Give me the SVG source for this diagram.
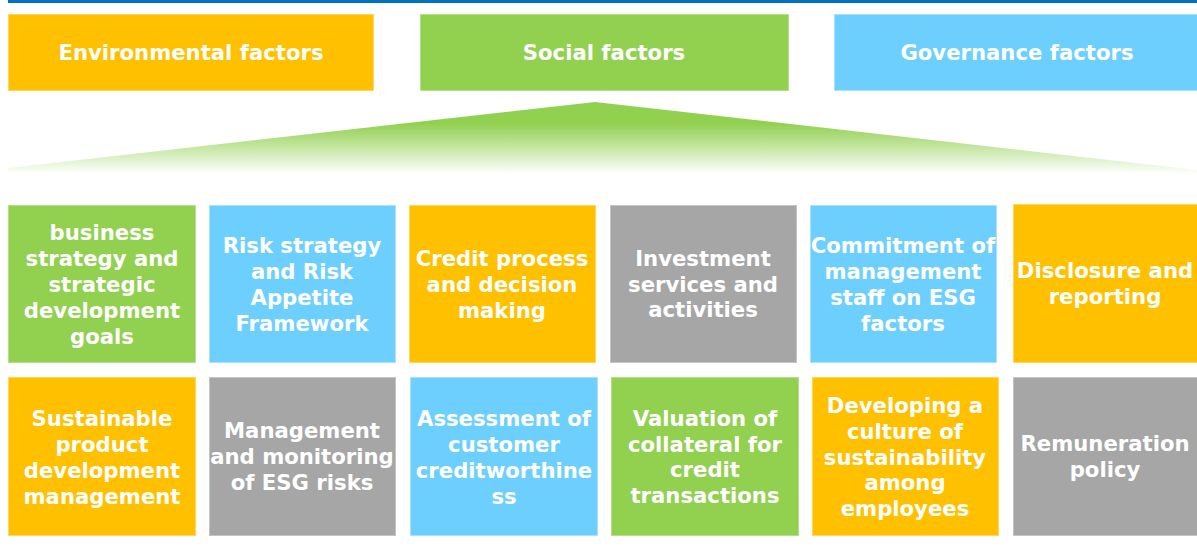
<svg xmlns="http://www.w3.org/2000/svg" width="1197" height="548" viewBox="0 0 1197 548">
<style>
.b{stroke-width:1}
.o{fill:#FFC000;stroke:#FFD75A}
.g{fill:#92D050;stroke:#B5E08A}
.u{fill:#6DCFFE;stroke:#A8E2FF}
.y{fill:#A6A6A6;stroke:#C4C4C4}
text{font-family:"DejaVu Sans","Verdana",sans-serif;font-weight:bold;font-size:21.2px;fill:#FFFFFF;text-anchor:middle}
</style>
<defs>
<linearGradient id="tri" x1="0" y1="0" x2="0" y2="1">
<stop offset="0" stop-color="#92D050"/>
<stop offset="0.3" stop-color="#92D050"/>
<stop offset="1" stop-color="#92D050" stop-opacity="0"/>
</linearGradient>
</defs>
<rect x="8" y="0" width="1189" height="3" fill="#0070C0"/>
<g id="h-env"><rect class="b o" x="8.5" y="14.5" width="365" height="76"/><text x="191" y="60">Environmental factors</text></g>
<g id="h-soc"><rect class="b g" x="420.5" y="14.5" width="368" height="76"/><text x="604" y="60">Social factors</text></g>
<g id="h-gov"><rect class="b u" x="834.5" y="14.5" width="363" height="76"/><text x="1017" y="60">Governance factors</text></g>
<polygon points="595,102 1197,170 1197,174 8,174 8,168" fill="url(#tri)"/>
<g id="connectors"></g>
<g id="n1"><rect class="b g" x="8.5" y="205.5" width="187" height="157"/><text x="102"><tspan x="102" y="240">business</tspan><tspan x="102" y="266">strategy and</tspan><tspan x="102" y="292">strategic</tspan><tspan x="102" y="318">development</tspan><tspan x="102" y="344">goals</tspan></text></g>
<g id="n2"><rect class="b u" x="209.5" y="205.5" width="186" height="157"/><text x="302"><tspan x="302" y="253">Risk strategy</tspan><tspan x="302" y="279">and Risk</tspan><tspan x="302" y="305">Appetite</tspan><tspan x="302" y="331">Framework</tspan></text></g>
<g id="n3"><rect class="b o" x="409.5" y="205.5" width="186" height="157"/><text x="502"><tspan x="502" y="266">Credit process</tspan><tspan x="502" y="292">and decision</tspan><tspan x="502" y="318">making</tspan></text></g>
<g id="n4"><rect class="b y" x="610.5" y="205.5" width="186" height="157"/><text x="703"><tspan x="703" y="266">Investment</tspan><tspan x="703" y="292">services and</tspan><tspan x="703" y="317">activities</tspan></text></g>
<g id="n5"><rect class="b u" x="810.5" y="205.5" width="186" height="157"/><text x="903"><tspan x="903" y="253">Commitment of</tspan><tspan x="903" y="279">management</tspan><tspan x="903" y="305">staff on ESG</tspan><tspan x="903" y="331">factors</tspan></text></g>
<g id="n6"><rect class="b o" x="1013.5" y="204.5" width="184" height="158"/><text x="1105"><tspan x="1105" y="278">Disclosure and</tspan><tspan x="1105" y="304">reporting</tspan></text></g>
<g id="n7"><rect class="b o" x="8.5" y="377.5" width="187" height="158"/><text x="102"><tspan x="102" y="426">Sustainable</tspan><tspan x="102" y="452">product</tspan><tspan x="102" y="478">development</tspan><tspan x="102" y="504">management</tspan></text></g>
<g id="n8"><rect class="b y" x="209.5" y="377.5" width="186" height="158"/><text x="302"><tspan x="302" y="438">Management</tspan><tspan x="302" y="464">and monitoring</tspan><tspan x="302" y="490">of ESG risks</tspan></text></g>
<g id="n9"><rect class="b u" x="410.5" y="377.5" width="187" height="158"/><text x="504"><tspan x="504" y="426">Assessment of</tspan><tspan x="504" y="452">customer</tspan><tspan x="504" y="478">creditworthine</tspan><tspan x="504" y="504">ss</tspan></text></g>
<g id="n10"><rect class="b g" x="611.5" y="377.5" width="187" height="158"/><text x="705"><tspan x="705" y="426">Valuation of</tspan><tspan x="705" y="452">collateral for</tspan><tspan x="705" y="477">credit</tspan><tspan x="705" y="503">transactions</tspan></text></g>
<g id="n11"><rect class="b o" x="812.5" y="377.5" width="186" height="158"/><text x="905"><tspan x="905" y="413">Developing a</tspan><tspan x="905" y="439">culture of</tspan><tspan x="905" y="465">sustainability</tspan><tspan x="905" y="490">among</tspan><tspan x="905" y="516">employees</tspan></text></g>
<g id="n12"><rect class="b y" x="1013.5" y="377.5" width="184" height="158"/><text x="1105"><tspan x="1105" y="451">Remuneration</tspan><tspan x="1105" y="477">policy</tspan></text></g>
</svg>
